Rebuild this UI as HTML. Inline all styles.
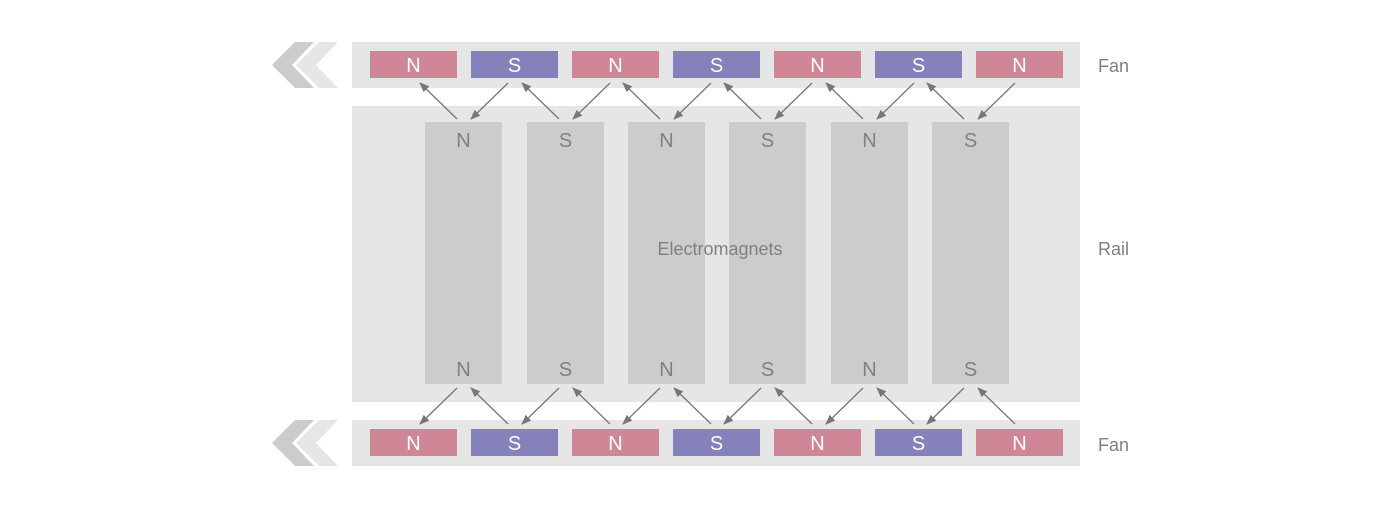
<!DOCTYPE html>
<html><head><meta charset="utf-8"><style>
html,body{margin:0;padding:0;background:#fff;}
svg{display:block;font-family:"Liberation Sans",sans-serif;}
</style></head><body>
<svg width="1400" height="508" viewBox="0 0 1400 508" xmlns="http://www.w3.org/2000/svg">
<defs>
<marker id="ah" markerWidth="10" markerHeight="8" refX="9" refY="4" orient="auto" markerUnits="userSpaceOnUse">
<path d="M0,0 L10,4 L0,8 z" fill="#777"/>
</marker>
</defs>
<g>
<polygon points="295,42 314,42 292,65 314,88 295,88 272,65" fill="#cccccc"/>
<polygon points="319,42 338,42 316,65 338,88 319,88 296,65" fill="#e6e6e6"/>
<polygon points="295,420 314,420 292,443 314,466 295,466 272,443" fill="#cccccc"/>
<polygon points="319,420 338,420 316,443 338,466 319,466 296,443" fill="#e6e6e6"/>
</g>
<rect x="352" y="42" width="728" height="46" fill="#e6e6e6"/>
<rect x="352" y="106" width="728" height="296" fill="#e6e6e6"/>
<rect x="352" y="420" width="728" height="46" fill="#e6e6e6"/>
<g font-size="20" fill="#fff" text-anchor="middle">
<rect x="370" y="51" width="87" height="27" fill="#cf8797"/><text x="413.5" y="72">N</text>
<rect x="471" y="51" width="87" height="27" fill="#8481bb"/><text x="514.5" y="72">S</text>
<rect x="572" y="51" width="87" height="27" fill="#cf8797"/><text x="615.5" y="72">N</text>
<rect x="673" y="51" width="87" height="27" fill="#8481bb"/><text x="716.5" y="72">S</text>
<rect x="774" y="51" width="87" height="27" fill="#cf8797"/><text x="817.5" y="72">N</text>
<rect x="875" y="51" width="87" height="27" fill="#8481bb"/><text x="918.5" y="72">S</text>
<rect x="976" y="51" width="87" height="27" fill="#cf8797"/><text x="1019.5" y="72">N</text>
<rect x="370" y="429" width="87" height="27" fill="#cf8797"/><text x="413.5" y="450">N</text>
<rect x="471" y="429" width="87" height="27" fill="#8481bb"/><text x="514.5" y="450">S</text>
<rect x="572" y="429" width="87" height="27" fill="#cf8797"/><text x="615.5" y="450">N</text>
<rect x="673" y="429" width="87" height="27" fill="#8481bb"/><text x="716.5" y="450">S</text>
<rect x="774" y="429" width="87" height="27" fill="#cf8797"/><text x="817.5" y="450">N</text>
<rect x="875" y="429" width="87" height="27" fill="#8481bb"/><text x="918.5" y="450">S</text>
<rect x="976" y="429" width="87" height="27" fill="#cf8797"/><text x="1019.5" y="450">N</text>
</g>
<g fill="#cccccc">
<rect x="425" y="122" width="77" height="262"/>
<rect x="527" y="122" width="77" height="262"/>
<rect x="628" y="122" width="77" height="262"/>
<rect x="729" y="122" width="77" height="262"/>
<rect x="831" y="122" width="77" height="262"/>
<rect x="932" y="122" width="77" height="262"/>
</g>
<g font-size="20" fill="#808080" text-anchor="middle">
<text x="463.5" y="147">N</text><text x="565.5" y="147">S</text><text x="666.5" y="147">N</text>
<text x="767.5" y="147">S</text><text x="869.5" y="147">N</text><text x="970.5" y="147">S</text>
<text x="463.5" y="376">N</text><text x="565.5" y="376">S</text><text x="666.5" y="376">N</text>
<text x="767.5" y="376">S</text><text x="869.5" y="376">N</text><text x="970.5" y="376">S</text>
</g>
<g font-size="18" fill="#808080">
<text x="720" y="255" text-anchor="middle">Electromagnets</text>
<text x="1098" y="72">Fan</text>
<text x="1098" y="255">Rail</text>
<text x="1098" y="451">Fan</text>
</g>
<g stroke="#777" stroke-width="1.3" marker-end="url(#ah)">
<line x1="457" y1="119" x2="420" y2="83"/><line x1="508" y1="83" x2="471" y2="119"/>
<line x1="559" y1="119" x2="522" y2="83"/><line x1="610" y1="83" x2="573" y2="119"/>
<line x1="660" y1="119" x2="623" y2="83"/><line x1="711" y1="83" x2="674" y2="119"/>
<line x1="761" y1="119" x2="724" y2="83"/><line x1="812" y1="83" x2="775" y2="119"/>
<line x1="863" y1="119" x2="826" y2="83"/><line x1="914" y1="83" x2="877" y2="119"/>
<line x1="964" y1="119" x2="927" y2="83"/><line x1="1015" y1="83" x2="978" y2="119"/>
<line x1="457" y1="388" x2="420" y2="424"/><line x1="508" y1="424" x2="471" y2="388"/>
<line x1="559" y1="388" x2="522" y2="424"/><line x1="610" y1="424" x2="573" y2="388"/>
<line x1="660" y1="388" x2="623" y2="424"/><line x1="711" y1="424" x2="674" y2="388"/>
<line x1="761" y1="388" x2="724" y2="424"/><line x1="812" y1="424" x2="775" y2="388"/>
<line x1="863" y1="388" x2="826" y2="424"/><line x1="914" y1="424" x2="877" y2="388"/>
<line x1="964" y1="388" x2="927" y2="424"/><line x1="1015" y1="424" x2="978" y2="388"/>
</g>
</svg>
</body></html>
